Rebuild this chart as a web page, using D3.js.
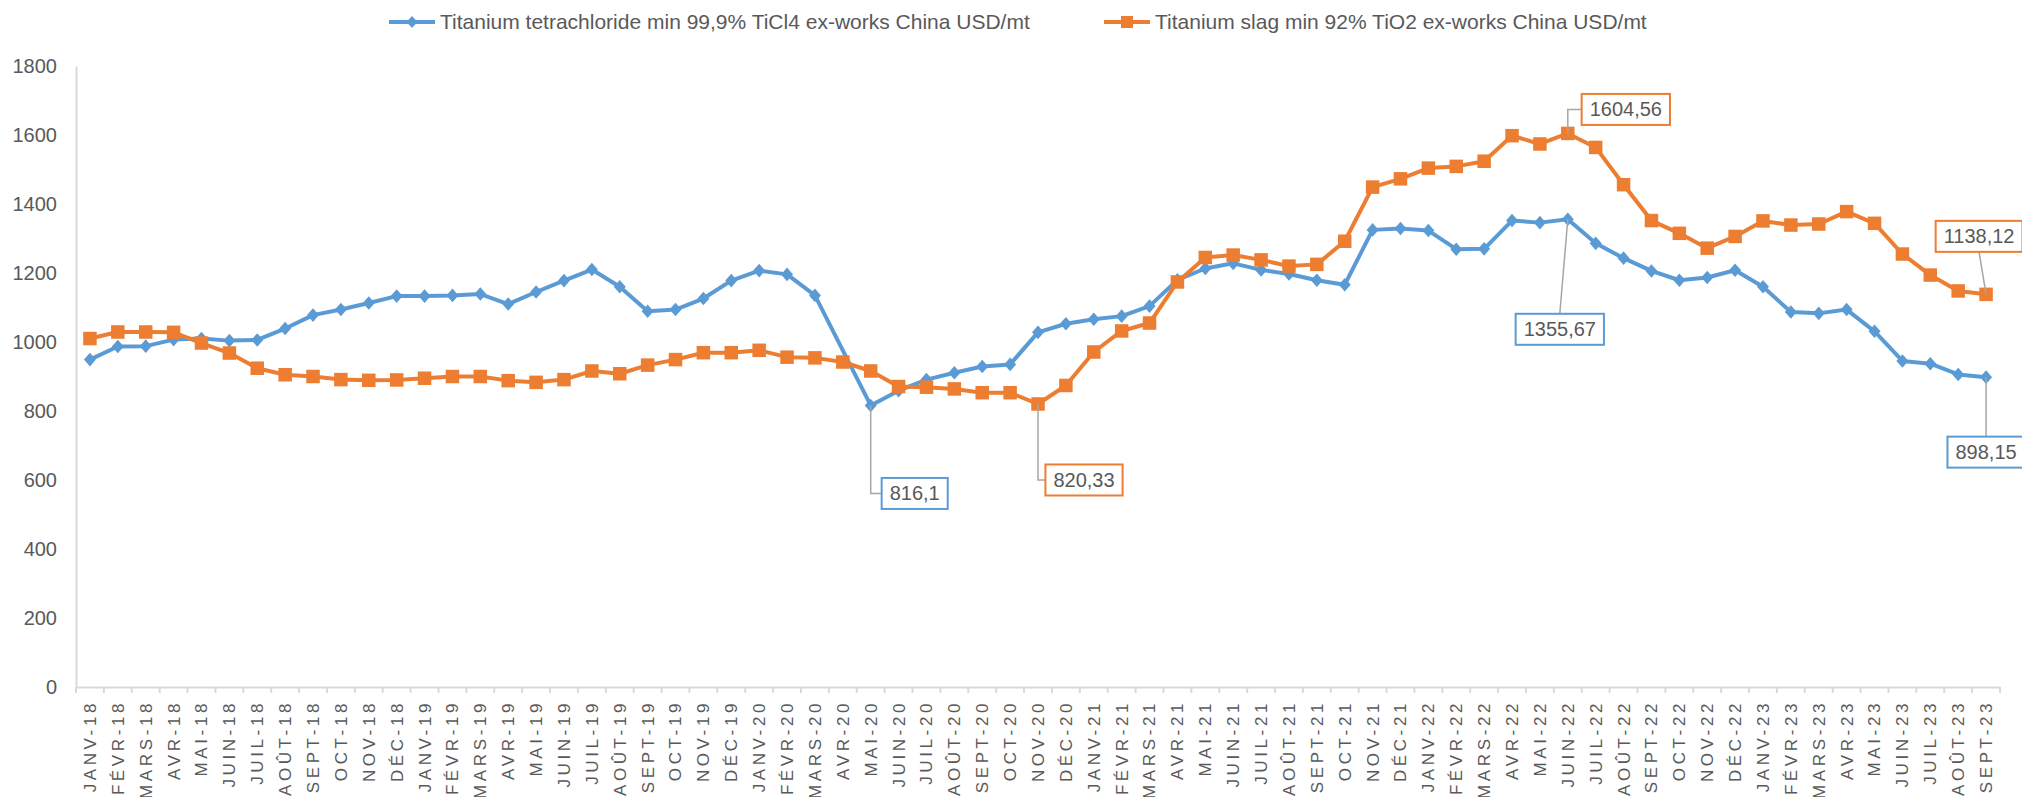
<!DOCTYPE html>
<html lang="fr">
<head>
    <meta charset="utf-8">
    <title>TiCl4 vs titanium slag</title>
    <script src="https://cdn.jsdelivr.net/npm/d3@7"></script>
    <style>
        body { margin: 0; background: #fff; }
        svg { display: block; font-family: "Liberation Sans", Arial, sans-serif; }
    </style>
</head>
<body>
    <svg id="chart" width="2022" height="797"></svg>

    <script>
        // months, JANV-18 .. SEPT-23
        const months = [
            "JANV-18","FÉVR-18","MARS-18","AVR-18","MAI-18","JUIN-18","JUIL-18","AOÛT-18","SEPT-18","OCT-18","NOV-18","DÉC-18",
            "JANV-19","FÉVR-19","MARS-19","AVR-19","MAI-19","JUIN-19","JUIL-19","AOÛT-19","SEPT-19","OCT-19","NOV-19","DÉC-19",
            "JANV-20","FÉVR-20","MARS-20","AVR-20","MAI-20","JUIN-20","JUIL-20","AOÛT-20","SEPT-20","OCT-20","NOV-20","DÉC-20",
            "JANV-21","FÉVR-21","MARS-21","AVR-21","MAI-21","JUIN-21","JUIL-21","AOÛT-21","SEPT-21","OCT-21","NOV-21","DÉC-21",
            "JANV-22","FÉVR-22","MARS-22","AVR-22","MAI-22","JUIN-22","JUIL-22","AOÛT-22","SEPT-22","OCT-22","NOV-22","DÉC-22",
            "JANV-23","FÉVR-23","MARS-23","AVR-23","MAI-23","JUIN-23","JUIL-23","AOÛT-23","SEPT-23"
        ];

        // Titanium tetrachloride (AVR-20 has no value, line is bridged)
        const ticl4 = [
            949, 987, 988, 1007, 1010, 1004, 1006, 1039, 1078, 1094, 1113, 1133,
            1133, 1135, 1139, 1110, 1145, 1178, 1210, 1160, 1089, 1094, 1126, 1178,
            1207, 1196, 1135, null, 816.1, 859, 891, 911, 929, 935, 1028, 1053,
            1066, 1075, 1104, 1180, 1213, 1228, 1209, 1197, 1179, 1166, 1325, 1329,
            1323, 1269, 1270, 1352, 1346, 1355.67, 1286, 1243, 1206, 1179, 1187, 1208,
            1160, 1087, 1083, 1094, 1031, 945, 937, 906, 898.15
        ];

        // Titanium slag
        const slag = [
            1010, 1029, 1029, 1028, 997, 968, 924, 905, 900, 891, 889, 890,
            895, 900, 900, 888, 883, 891, 916, 908, 933, 949, 969, 969,
            976, 956, 954, 942, 916, 871, 869, 864, 853, 853, 820.33, 874,
            971, 1032, 1055, 1174, 1245, 1252, 1238, 1220, 1225, 1292, 1449, 1473,
            1504, 1509, 1524, 1598, 1574, 1604.56, 1564, 1456, 1352, 1315, 1272, 1306,
            1351, 1339, 1342, 1378, 1344, 1255, 1194, 1148, 1138.12
        ];

        const seriesNames = [
            "Titanium tetrachloride min 99,9% TiCl4 ex-works China USD/mt",
            "Titanium slag min 92% TiO2 ex-works China USD/mt"
        ];
        const yTicks = [0, 200, 400, 600, 800, 1000, 1200, 1400, 1600, 1800];

        // which points carry a value label, and where the box sits (offset from the point)
        const labelled = [
            { s: 0, i: 28, dx: 44, dy: 88 },
            { s: 1, i: 34, dx: 46, dy: 76 },
            { s: 1, i: 53, dx: 58, dy: -24 },
            { s: 0, i: 53, dx: -8, dy: 110 },
            { s: 1, i: 68, dx: -7, dy: -58 },
            { s: 0, i: 68, dx: 0, dy: 75 }
        ];

        const colors = ["#5B9BD5", "#ED7D31"];
        const textColor = "#595959";
        const axisColor = "#D9D9D9";

        const svg = d3.select("#chart");
        const plotLeft = 76, plotRight = 2000, plotTop = 66, plotBottom = 687;

        const x = d3.scaleBand().domain(months).range([plotLeft, plotRight]);
        const y = d3.scaleLinear().domain([0, 1800]).range([plotBottom, plotTop]);

        const fr = d3.formatLocale({ decimal: ",", thousands: "", grouping: [3], currency: ["", ""] });
        const fmt = v => fr.format(",")(v);

        // y axis
        const yAxis = svg.append("g")
            .attr("transform", `translate(${plotLeft},0)`)
            .call(d3.axisLeft(y).tickValues(yTicks).tickSize(0).tickPadding(19).tickFormat(d3.format("d")));
        yAxis.select(".domain").attr("stroke", axisColor).attr("stroke-width", 2);
        yAxis.selectAll("text").attr("fill", textColor).attr("font-size", 20).attr("font-family", null);

        // x axis: labels at band centres, ticks on band edges
        const xAxis = svg.append("g")
            .attr("transform", `translate(0,${plotBottom})`)
            .call(d3.axisBottom(x).tickSize(0).tickSizeOuter(0));
        xAxis.select(".domain").attr("stroke", axisColor).attr("stroke-width", 2);
        xAxis.selectAll(".tick text")
            .attr("fill", textColor)
            .attr("font-size", 17)
            .attr("font-family", null)
            .attr("letter-spacing", "3.6px")
            .attr("text-anchor", "end")
            .attr("transform", "rotate(-90)")
            .attr("x", -13)
            .attr("y", 0)
            .attr("dy", "0.35em");
        xAxis.selectAll("line.edge")
            .data(months.concat(["end"]))
            .join("line")
            .attr("class", "edge")
            .attr("x1", (d, i) => plotLeft + i * x.step())
            .attr("x2", (d, i) => plotLeft + i * x.step())
            .attr("y1", 0).attr("y2", 6)
            .attr("stroke", axisColor).attr("stroke-width", 2);

        const cx = i => x(months[i]) + x.bandwidth() / 2;

        const line = d3.line()
            .x(d => cx(d.i))
            .y(d => y(d.v));

        [ticl4, slag].forEach((vals, s) => {
            const pts = vals.map((v, i) => ({ i, v })).filter(d => d.v != null);
            svg.append("path")
                .datum(pts)
                .attr("fill", "none")
                .attr("stroke", colors[s])
                .attr("stroke-width", 4)
                .attr("stroke-linejoin", "round")
                .attr("d", line);

            const g = svg.append("g");
            if (s === 0) {
                g.selectAll("path.m").data(pts).join("path")
                    .attr("class", "m")
                    .attr("d", "M0,-6.8L6,0L0,6.8L-6,0Z")
                    .attr("transform", d => `translate(${cx(d.i)},${y(d.v)})`)
                    .attr("fill", colors[s]);
            } else {
                g.selectAll("rect.m").data(pts).join("rect")
                    .attr("class", "m")
                    .attr("x", d => cx(d.i) - 6.75)
                    .attr("y", d => y(d.v) - 6.75)
                    .attr("width", 13.5).attr("height", 13.5)
                    .attr("fill", colors[s]);
            }
        });

        // value labels with leader lines
        labelled.forEach(l => {
            const v = [ticl4, slag][l.s][l.i];
            const px = cx(l.i), py = y(v);
            const bx = px + l.dx, by = py + l.dy;
            const g = svg.append("g");
            const t = g.append("text")
                .attr("x", bx).attr("y", by).attr("dy", "0.35em")
                .attr("text-anchor", "middle")
                .attr("font-size", 20)
                .attr("fill", textColor)
                .text(fmt(v));
            const w = t.node().getComputedTextLength() + 16, h = 31;
            let pathD;
            if (Math.abs(l.dx) > w / 2) {
                pathD = `M${px},${py}V${by}H${bx - w / 2}`;
            } else {
                const ey = l.dy > 0 ? by - h / 2 : by + h / 2;
                pathD = `M${px},${py}L${bx},${ey}`;
            }
            g.insert("path", "text")
                .attr("d", pathD).attr("fill", "none")
                .attr("stroke", "#A6A6A6").attr("stroke-width", 1.5);
            g.insert("rect", "text")
                .attr("x", bx - w / 2).attr("y", by - h / 2)
                .attr("width", w).attr("height", h)
                .attr("fill", "#fff")
                .attr("stroke", colors[l.s]).attr("stroke-width", 2);
        });

        // legend
        const legendX = [389, 1104];
        seriesNames.forEach((name, s) => {
            const g = svg.append("g").attr("transform", `translate(${legendX[s]},22)`);
            g.append("line").attr("x1", 0).attr("x2", 46)
                .attr("stroke", colors[s]).attr("stroke-width", 4);
            if (s === 0) {
                g.append("path").attr("d", "M0,-6L5.5,0L0,6L-5.5,0Z")
                    .attr("transform", "translate(23,0)").attr("fill", colors[s]);
            } else {
                g.append("rect").attr("x", 17).attr("y", -6).attr("width", 12).attr("height", 12)
                    .attr("fill", colors[s]);
            }
            g.append("text").attr("x", 51).attr("y", 7)
                .attr("font-size", 21).attr("fill", textColor)
                .text(name);
        });
    </script>
</body>
</html>
